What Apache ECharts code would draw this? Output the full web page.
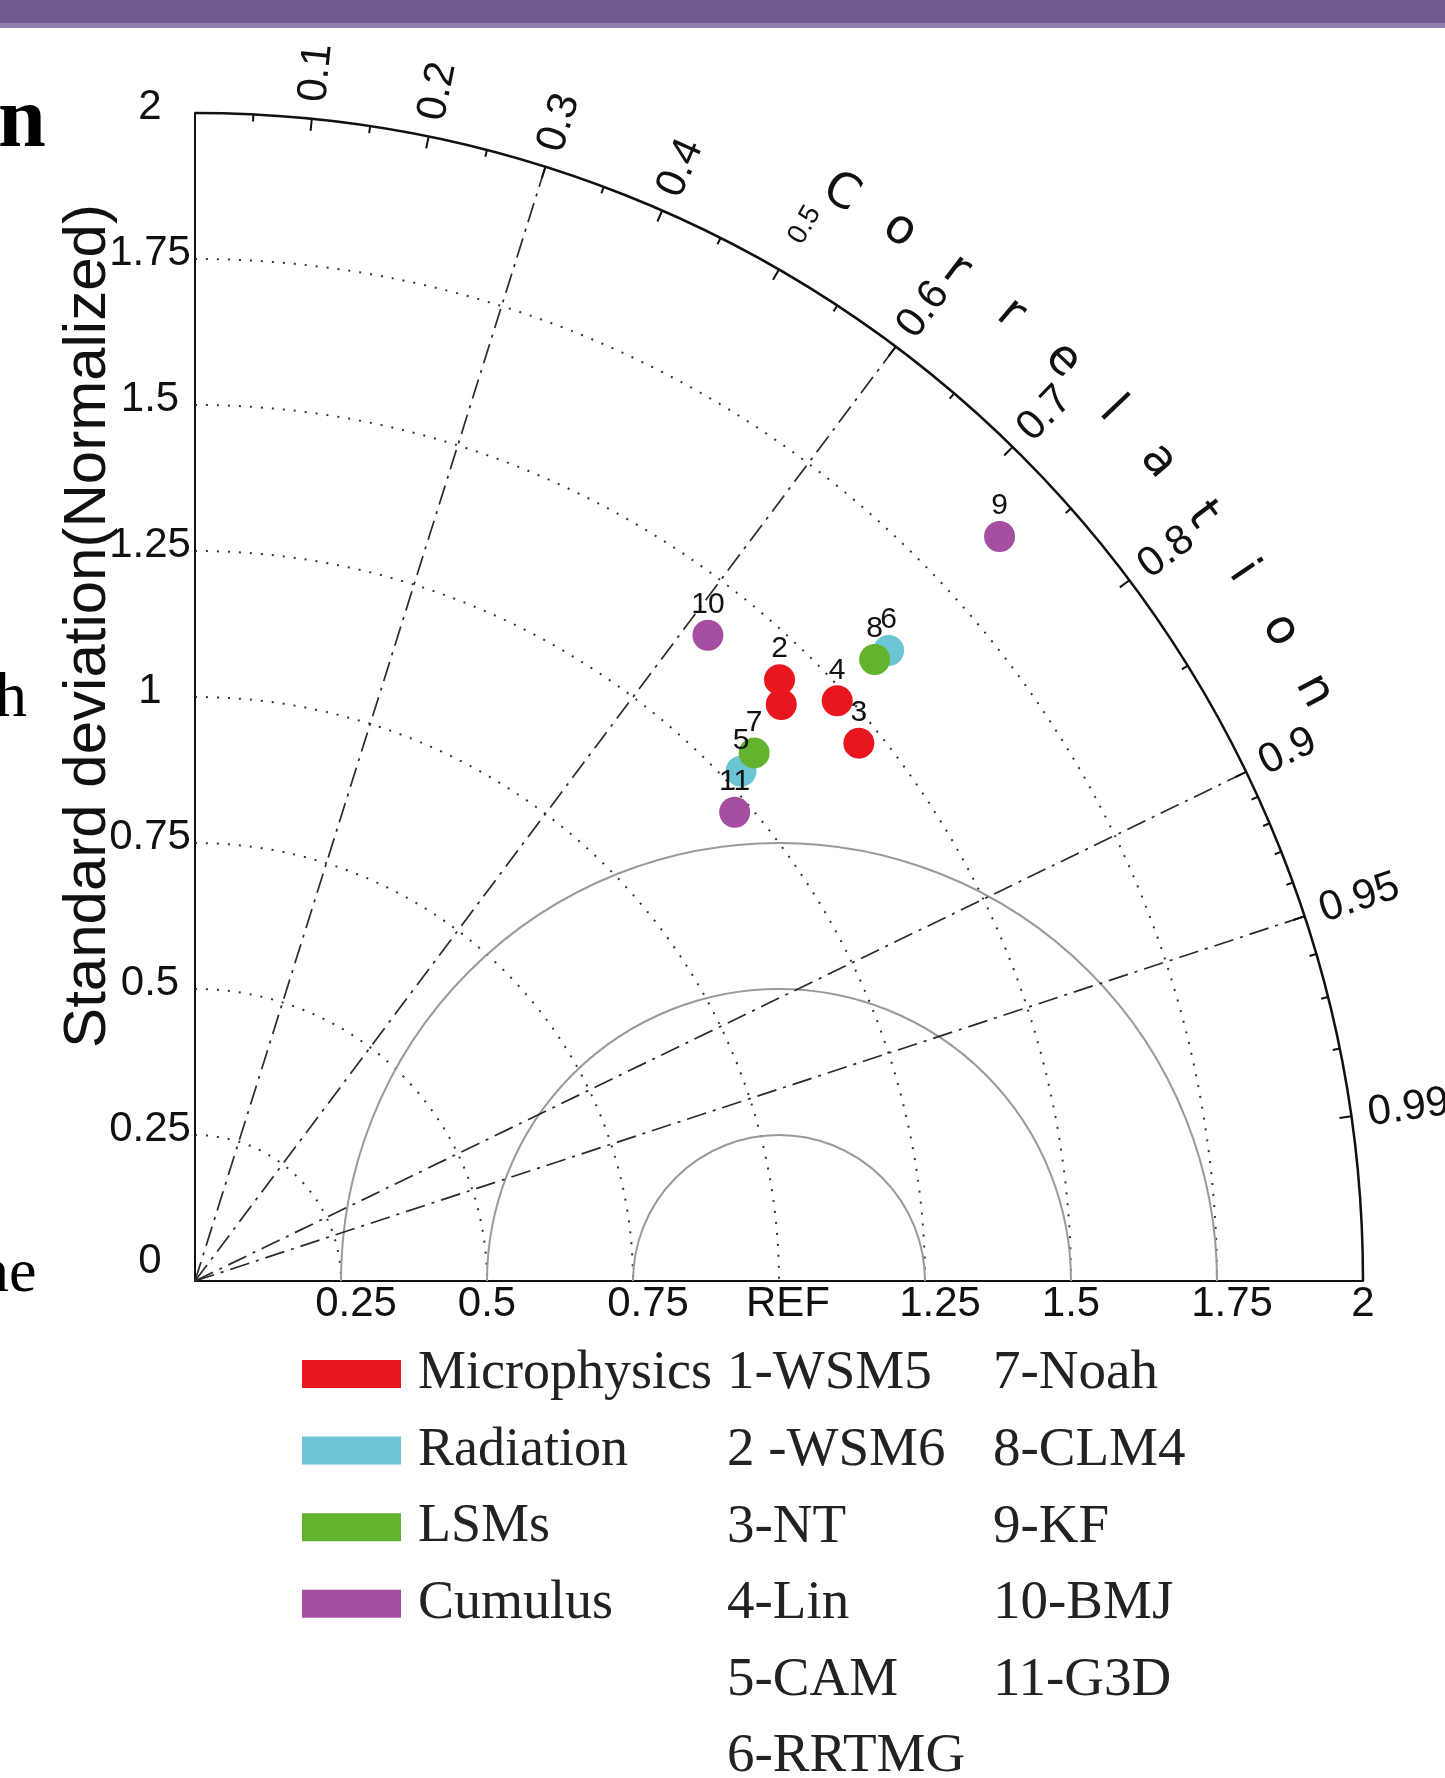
<!DOCTYPE html>
<html><head><meta charset="utf-8">
<script src="https://cdn.jsdelivr.net/npm/echarts@6/dist/echarts.min.js"></script>
<style>html,body{margin:0;padding:0;background:#fff}#chart{width:1445px;height:1778px}</style>
</head><body><div id="chart"></div>
<script>
// ---------------- data ----------------
const categories = ['Microphysics', 'Radiation', 'LSMs', 'Cumulus'];
const categoryColors = ['#E8161D', '#6CC5D5', '#62B32E', '#A54E9F'];
const modelIds = [1, 2, 3, 4, 5, 6, 7, 8, 9, 10, 11];
const modelNames = ['1-WSM5', '2 -WSM6', '3-NT', '4-Lin', '5-CAM', '6-RRTMG', '7-Noah', '8-CLM4', '9-KF', '10-BMJ', '11-G3D'];
const modelCategory = [0, 0, 0, 0, 1, 1, 2, 2, 3, 3, 3];
const stdDev = [1.408, 1.436, 1.463, 1.482, 1.279, 1.605, 1.317, 1.577, 1.877, 1.412, 1.224];
const correlation = [0.713, 0.697, 0.777, 0.742, 0.731, 0.740, 0.727, 0.738, 0.734, 0.622, 0.755];
const hiddenPointLabels = [1];
const stdTicks = [0, 0.25, 0.5, 0.75, 1, 1.25, 1.5, 1.75, 2];
const xTickLabels = ['', '0.25', '0.5', '0.75', 'REF', '1.25', '1.5', '1.75', '2'];
const stdArcs = [0.25, 0.5, 0.75, 1, 1.25, 1.5, 1.75];
const rmsArcs = [0.25, 0.5, 0.75];
const refStd = 1;
const maxStd = 2;
const corrLabelTicks = [0.1, 0.2, 0.3, 0.4, 0.5, 0.6, 0.7, 0.8, 0.9, 0.95, 0.99];
const corrMinorTicks = [0.05, 0.15, 0.25, 0.35, 0.45, 0.55, 0.65, 0.75, 0.85, 0.91, 0.92, 0.93, 0.94, 0.96, 0.97, 0.98];
const corrLines = [0.3, 0.6, 0.9, 0.95];
const corrTitle = 'Correlation';
const yTitle = 'Standard deviation(Normalized)';

// ---------------- chart ----------------
const chart = echarts.init(document.getElementById('chart'), null, {renderer: 'canvas'});
const SANS = 'Liberation Sans, Arial, sans-serif';
const SERIF = 'Liberation Serif, Times New Roman, serif';

function toXY(s, c) { return [s * c, s * Math.sqrt(1 - c * c)]; }

function frameRender(params, api) {
  const O = api.coord([0, 0]);
  const U = api.coord([1, 0])[0] - O[0];
  const R = maxStd * U;
  const ch = [];
  stdArcs.forEach(s => ch.push({
    type: 'arc', shape: {cx: O[0], cy: O[1], r: s * U, startAngle: -Math.PI / 2, endAngle: 0, clockwise: true},
    style: {stroke: '#333', fill: null, lineWidth: 2, lineDash: [2, 9]}
  }));
  const C = api.coord([refStd, 0]);
  rmsArcs.forEach(s => ch.push({
    type: 'arc', shape: {cx: C[0], cy: C[1], r: s * U, startAngle: -Math.PI, endAngle: 0, clockwise: true},
    style: {stroke: '#9a9a9a', fill: null, lineWidth: 2}
  }));
  corrLines.forEach(c => {
    const P = api.coord(toXY(maxStd, c));
    ch.push({type: 'line', shape: {x1: O[0], y1: O[1], x2: P[0], y2: P[1]},
      style: {stroke: '#2a2a2a', lineWidth: 1.7, lineDash: [20, 7, 3, 7]}});
  });
  ch.push({type: 'arc', shape: {cx: O[0], cy: O[1], r: R, startAngle: -Math.PI / 2, endAngle: 0, clockwise: true},
    style: {stroke: '#111', fill: null, lineWidth: 2.5}});
  const tick = (c, len) => {
    const th = Math.acos(c);
    const dx = Math.cos(th), dy = -Math.sin(th);
    ch.push({type: 'line', shape: {x1: O[0] + R * dx, y1: O[1] + R * dy, x2: O[0] + (R - len) * dx, y2: O[1] + (R - len) * dy},
      style: {stroke: '#111', lineWidth: 2}});
  };
  corrLabelTicks.forEach(c => tick(c, 12));
  corrMinorTicks.forEach(c => tick(c, 7));
  corrLabelTicks.forEach(c => {
    const th = Math.acos(c);
    const small = c === 0.5;
    const rr = R + (small ? 32 : 17);
    ch.push({type: 'text', x: O[0] + rr * Math.cos(th), y: O[1] - rr * Math.sin(th), rotation: th,
      style: {text: String(c), fontSize: small ? 28 : 42, fontFamily: SANS, fill: '#111', align: 'left', verticalAlign: 'middle'}});
  });
  const letters = corrTitle.split('');
  letters.forEach((L, i) => {
    const ang = (59.3 - i * 3.15) * Math.PI / 180;
    const rr = R + 97;
    ch.push({type: 'text', x: O[0] + rr * Math.cos(ang), y: O[1] - rr * Math.sin(ang), rotation: ang - Math.PI / 2,
      style: {text: L, fontSize: 48, fontFamily: 'DejaVu Sans, sans-serif', fill: '#111', align: 'center', verticalAlign: 'middle'}});
  });
  return {type: 'group', children: ch};
}

const scatterSeries = categories.map((name, k) => ({
  type: 'scatter', name: name, symbol: 'circle', symbolSize: 31, z: 5,
  itemStyle: {color: categoryColors[k], opacity: 1},
  label: {show: true, position: 'top', distance: 0, fontSize: 30, fontFamily: SANS, color: '#111',
    formatter: p => String(p.value[2])},
  data: modelIds.map((id, i) => ({id, i})).filter(o => modelCategory[o.i] === k).map(o => ({
    value: toXY(stdDev[o.i], correlation[o.i]).concat([o.id]),
    label: {show: hiddenPointLabels.indexOf(o.id) < 0}
  }))
}));

const graphics = [
  {type: 'rect', shape: {x: 0, y: 0, width: 1445, height: 23}, style: {fill: '#715A8E'}},
  {type: 'rect', shape: {x: 0, y: 23, width: 1445, height: 5}, style: {fill: '#8E7DAA'}},
  {type: 'text', x: -2, y: 81, style: {text: 'n', fontSize: 86, fontWeight: 'bold', fontFamily: SERIF, fill: '#000', align: 'left', verticalAlign: 'alphabetic'}},
  {type: 'text', x: -5, y: 667, style: {text: 'h', fontSize: 64, fontFamily: SERIF, fill: '#000', align: 'left', verticalAlign: 'alphabetic'}},
  {type: 'text', x: -22, y: 1244, style: {text: 'ne', fontSize: 62, fontFamily: SERIF, fill: '#000', align: 'left', verticalAlign: 'alphabetic'}},
  {type: 'text', x: 88, y: 626, rotation: Math.PI / 2,
    style: {text: yTitle, fontSize: 60, fontFamily: SANS, fill: '#111', align: 'center', verticalAlign: 'middle'}}
];
modelNames.forEach((t, i) => {
  const col = i < 6 ? 0 : 1;
  const row = i < 6 ? i : i - 6;
  graphics.push({type: 'text', x: col === 0 ? 727 : 993, y: 1374 + row * 76.6,
    style: {text: t, fontSize: 55, fontFamily: SERIF, fill: '#222', align: 'left', verticalAlign: 'middle'}});
});

const option = {
  animation: false,
  backgroundColor: '#fff',
  grid: {left: 195, top: 113, width: 1168, height: 1168, containLabel: false},
  xAxis: {
    type: 'value', min: 0, max: 2, interval: 0.25,
    axisLine: {show: true, onZero: false, lineStyle: {color: '#111', width: 2}},
    axisTick: {show: false}, splitLine: {show: false},
    axisLabel: {
      margin: 2, fontSize: 42, fontFamily: SANS, color: '#111', showMinLabel: true, showMaxLabel: true,
      formatter: v => {
        const t = xTickLabels[stdTicks.indexOf(Math.round(v * 4) / 4)] || '';
        if (t === 'REF') return '{r|REF}';
        if (t.length === 4) return '{w|' + t + '}';
        return t;
      },
      rich: {
        w: {fontSize: 42, fontFamily: SANS, color: '#111', padding: [0, 0, 0, 30]},
        r: {fontSize: 42, fontFamily: SANS, color: '#111', padding: [0, 0, 0, 18]}
      }
    }
  },
  yAxis: {
    type: 'value', min: 0, max: 2, interval: 0.25,
    axisLine: {show: true, onZero: false, lineStyle: {color: '#111', width: 2}},
    axisTick: {show: false}, splitLine: {show: false},
    axisLabel: {
      margin: 45, align: 'center', fontSize: 42, fontFamily: SANS, color: '#111', showMinLabel: true, showMaxLabel: true,
      formatter: v => v === 0 ? '{z|0}' : '{n|' + v + '}',
      rich: {
        z: {fontSize: 42, fontFamily: SANS, color: '#111', padding: [0, 0, 40, 0]},
        n: {fontSize: 42, fontFamily: SANS, color: '#111', padding: [0, 0, 12, 0]}
      }
    }
  },
  legend: {
    data: categories, orient: 'vertical', left: 297, top: 1339, icon: 'rect',
    itemWidth: 99, itemHeight: 28, itemGap: 16.6, selectedMode: false,
    textStyle: {fontFamily: SERIF, fontSize: 54, color: '#222', lineHeight: 60, padding: [0, 0, 0, 12]}
  },
  graphic: graphics,
  series: [
    {type: 'custom', name: 'frame', silent: true, clip: false, z: 1, renderItem: frameRender, data: [[0, 0]]}
  ].concat(scatterSeries)
};
chart.setOption(option);
</script></body></html>
